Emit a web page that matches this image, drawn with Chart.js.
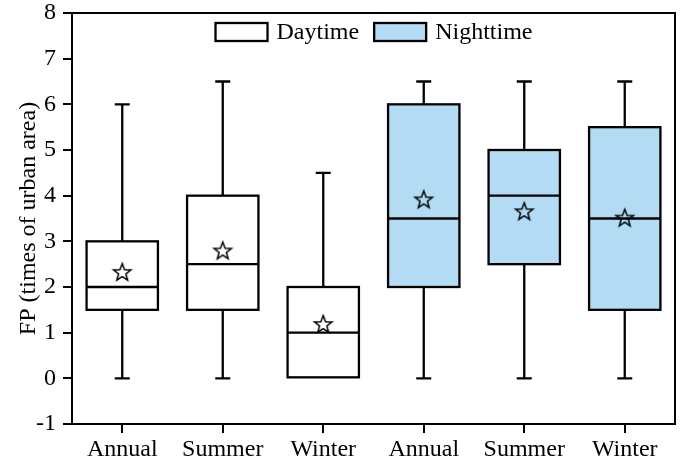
<!DOCTYPE html>
<html><head><meta charset="utf-8">
<script src="https://cdn.jsdelivr.net/npm/chart.js@4.4.0/dist/chart.umd.min.js"></script>
<style>html,body{margin:0;padding:0;background:#fff;}#wrap{width:685px;height:461px;position:relative;}</style>
</head><body><div id="wrap"><canvas id="c"></canvas></div>
<script>
const categories = ['Annual','Summer','Winter','Annual','Summer','Winter'];
const seriesNames = ['Daytime','Nighttime'];
const seriesOf = [0,0,0,1,1,1];
const minVals = [0,0,0,0,0,0];
const q1Vals = [1.5,1.5,0,2,2.5,1.5];
const medianVals = [2,2.5,1,3.5,4,3.5];
const q3Vals = [3,4,2,6,5,5.5];
const maxVals = [6,6.5,4.5,6.5,6.5,6.5];
const meanVals = [2.33,2.8,1.19,3.92,3.66,3.52];
const yTicks = [-1,0,1,2,3,4,5,6,7,8];

const FONT = '"Liberation Serif", "Times New Roman", serif';
const fills = ['#ffffff', '#b3dcf4'];
const LW = 2.3;

function makeStar(size){
  const c=document.createElement('canvas'); c.width=c.height=size;
  const g=c.getContext('2d'); const cx=size/2, cy=size/2+0.8;
  const R=9.2, r=R*0.42;
  g.beginPath();
  for(let k=0;k<10;k++){const a=-Math.PI/2+k*Math.PI/5; const rr=k%2?r:R; g.lineTo(cx+rr*Math.cos(a), cy+rr*Math.sin(a));}
  g.closePath(); g.lineWidth=1.5; g.strokeStyle='#000'; g.lineJoin='miter'; g.stroke();
  return c;
}
const starImg = makeStar(24);

const boxDatasets = seriesNames.map((name,s)=>({
  type:'bar', label:name, order:2,
  data: categories.map((_,i)=> seriesOf[i]===s ? [q1Vals[i], q3Vals[i]] : null),
  backgroundColor: fills[s], borderColor:'#000', borderWidth:0, borderSkipped:false,
  barPercentage:0.71, categoryPercentage:1.0, grouped:false
}));

const boxParts = {
  id:'boxParts',
  beforeDatasetsDraw(chart){
    const {ctx, scales:{x,y}} = chart;
    ctx.save(); ctx.strokeStyle='#000'; ctx.lineWidth=LW; ctx.lineCap='butt';
    const cap=7.5;
    categories.forEach((_,i)=>{
      const px=x.getPixelForValue(i);
      const yMax=y.getPixelForValue(maxVals[i]), yQ3=y.getPixelForValue(q3Vals[i]);
      const yMin=y.getPixelForValue(minVals[i]), yQ1=y.getPixelForValue(q1Vals[i]);
      ctx.beginPath();
      ctx.moveTo(px,yQ3); ctx.lineTo(px,yMax);
      ctx.moveTo(px-cap,yMax); ctx.lineTo(px+cap,yMax);
      if (yMin!==yQ1){
        ctx.moveTo(px,yQ1); ctx.lineTo(px,yMin);
        ctx.moveTo(px-cap,yMin); ctx.lineTo(px+cap,yMin);
      }
      ctx.stroke();
    });
    ctx.restore();
  },
  afterDatasetsDraw(chart){
    const {ctx, scales:{y}} = chart;
    ctx.save(); ctx.strokeStyle='#000'; ctx.lineWidth=LW;
    categories.forEach((_,i)=>{
      const el = chart.getDatasetMeta(seriesOf[i]).data[i];
      const half = el.width/2;
      const px = el.x, py = y.getPixelForValue(medianVals[i]);
      const top = Math.min(el.y, el.base), h = Math.abs(el.base - el.y);
      ctx.strokeRect(px-half, top, el.width, h);
      ctx.beginPath(); ctx.moveTo(px-half,py); ctx.lineTo(px+half,py); ctx.stroke();
    });
    ctx.restore();
  },
  afterDraw(chart){
    const {ctx, chartArea:a} = chart;
    ctx.save(); ctx.strokeStyle='#000'; ctx.lineWidth=2;
    ctx.beginPath(); ctx.moveTo(a.left-1,a.top); ctx.lineTo(a.right,a.top); ctx.lineTo(a.right,a.bottom+1); ctx.stroke();
    // legend
    ctx.font = '24px ' + FONT; ctx.textBaseline='middle'; ctx.fillStyle='#000';
    const bw=54, bh=20, g1=8, g2=14;
    const w = seriesNames.map(n=>ctx.measureText(n).width);
    const total = bw+g1+w[0]+g2+bw+g1+w[1];
    let xx = (a.left+a.right)/2 - total/2;
    const by = a.top+9;
    ctx.lineWidth=LW;
    seriesNames.forEach((n,s)=>{
      ctx.fillStyle=fills[s]; ctx.fillRect(xx+1,by+1,bw-2,bh-2);
      ctx.strokeRect(xx+1,by+1,bw-2,bh-2);
      ctx.fillStyle='#000'; ctx.fillText(n, xx+bw+g1, by+bh/2+1);
      xx += bw+g1+w[s]+g2;
    });
    ctx.restore();
  }
};

new Chart(document.getElementById('c'), {
  data:{
    labels: categories,
    datasets:[...boxDatasets, {
      type:'line', label:'Mean', order:1, data: meanVals, showLine:false,
      pointStyle: starImg, pointRadius:9, pointHoverRadius:9
    }]
  },
  options:{
    responsive:true, maintainAspectRatio:false, animation:false,
    layout:{padding:{top:13,right:3,left:0,bottom:0}},
    plugins:{legend:{display:false}, tooltip:{enabled:false}},
    scales:{
      x:{
        type:'category', offset:true,
        grid:{display:true, drawOnChartArea:false, drawTicks:true, tickLength:9, color:'#000', lineWidth:2, offset:false},
        border:{display:true, color:'#000', width:2},
        ticks:{color:'#000', font:{family:FONT, size:24}, padding:2, maxRotation:0, autoSkip:false},
        afterFit(s){ s.height = 37; s.paddingLeft = 0; s.paddingRight = 0; }
      },
      y:{
        min:-1, max:8,
        afterBuildTicks(s){ s.ticks = yTicks.map(v=>({value:v})); },
        grid:{display:true, drawOnChartArea:false, drawTicks:true, tickLength:9, color:'#000', lineWidth:2},
        border:{display:true, color:'#000', width:2},
        ticks:{color:'#000', font:{family:FONT, size:24}, padding:7},
        title:{display:true, text:'FP (times of urban area)', color:'#000', font:{family:FONT, size:24}, padding:{top:14,bottom:0}},
        afterFit(s){ s.width = 72; s.paddingTop = 0; s.paddingBottom = 0; }
      }
    }
  },
  plugins:[boxParts]
});
</script></body></html>
